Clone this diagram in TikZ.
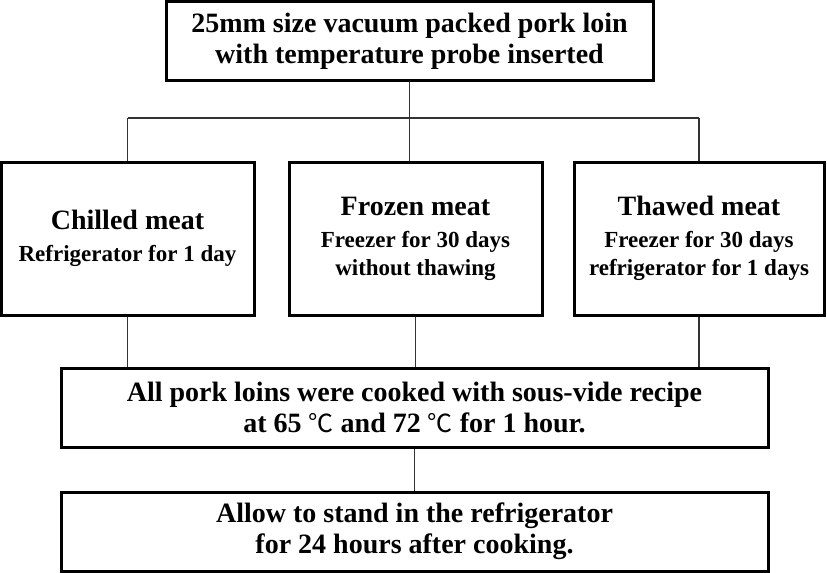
\documentclass[tikz,border=0pt]{standalone}
\usepackage{fontspec}
\setmainfont{Liberation Serif}
\newfontfamily\cjk{Noto Sans CJK KR}
\usepackage{tikz}
\usetikzlibrary{positioning,calc}
\newcommand{\detail}[1]{{\fontsize{11.5}{13.5}\selectfont #1}}
\newcommand{\degc}{{\cjk\mdseries\fontsize{12.5}{13.5}\selectfont ℃}}

\begin{document}
\begin{tikzpicture}[x=0.5pt,y=-0.5pt,
    etape/.style = {draw,line width=1.5pt,align=center,inner sep=0pt,
                    font=\bfseries\fontsize{14}{15.5}\selectfont},
    lien/.style  = {line width=0.7pt,black!80},
  ]
  \useasboundingbox (0,0) rectangle (827,573);

  % Sample
  \node[etape,minimum width=243.5pt,minimum height=39pt] (loin) at (409.5,41)
    {25mm size vacuum packed pork loin\\with temperature probe inserted};

  % Three storage conditions
  \node[etape,minimum width=126.5pt,minimum height=76.5pt] (chilled) at (127.5,238.5)
    {Chilled meat\\[0.5pt]\detail{Refrigerator for 1 day}};
  \node[etape,minimum width=126.5pt,minimum height=76.5pt] (frozen) at (415.5,238.5)
    {Frozen meat\\[0.5pt]\detail{Freezer for 30 days}\\[-1.5pt]\detail{without thawing}};
  \node[etape,minimum width=125pt,minimum height=76.5pt] (thawed) at (699,238.5)
    {Thawed meat\\[0.5pt]\detail{Freezer for 30 days}\\[-1.5pt]\detail{refrigerator for 1 days}};

  % Cooking and resting
  \node[etape,minimum width=353.5pt,minimum height=39.5pt] (cook) at (414.5,407.5)
    {All pork loins were cooked with sous-vide recipe\\at 65 \degc{} and 72 \degc{} for 1 hour.};
  \node[etape,minimum width=353.5pt,minimum height=39.5pt] (stand) at (414.5,531.5)
    {Allow to stand in the refrigerator\\for 24 hours after cooking.};

  % Branching
  \draw[lien] (loin.south) -- (loin.south |- 0,118) coordinate (fourche);
  \draw[lien] (fourche -| chilled) -- (fourche -| thawed);
  \draw[lien] (fourche -| chilled) -- (chilled.north);
  \draw[lien] (fourche) -- (fourche |- frozen.north);
  \draw[lien] (fourche -| thawed) -- (thawed.north);

  % Merging
  \foreach \cas in {chilled,frozen,thawed}
    \draw[lien] (\cas.south) -- (\cas.south |- cook.north);
  \draw[lien] (cook.south) -- (stand.north);

\end{tikzpicture}
\end{document}
